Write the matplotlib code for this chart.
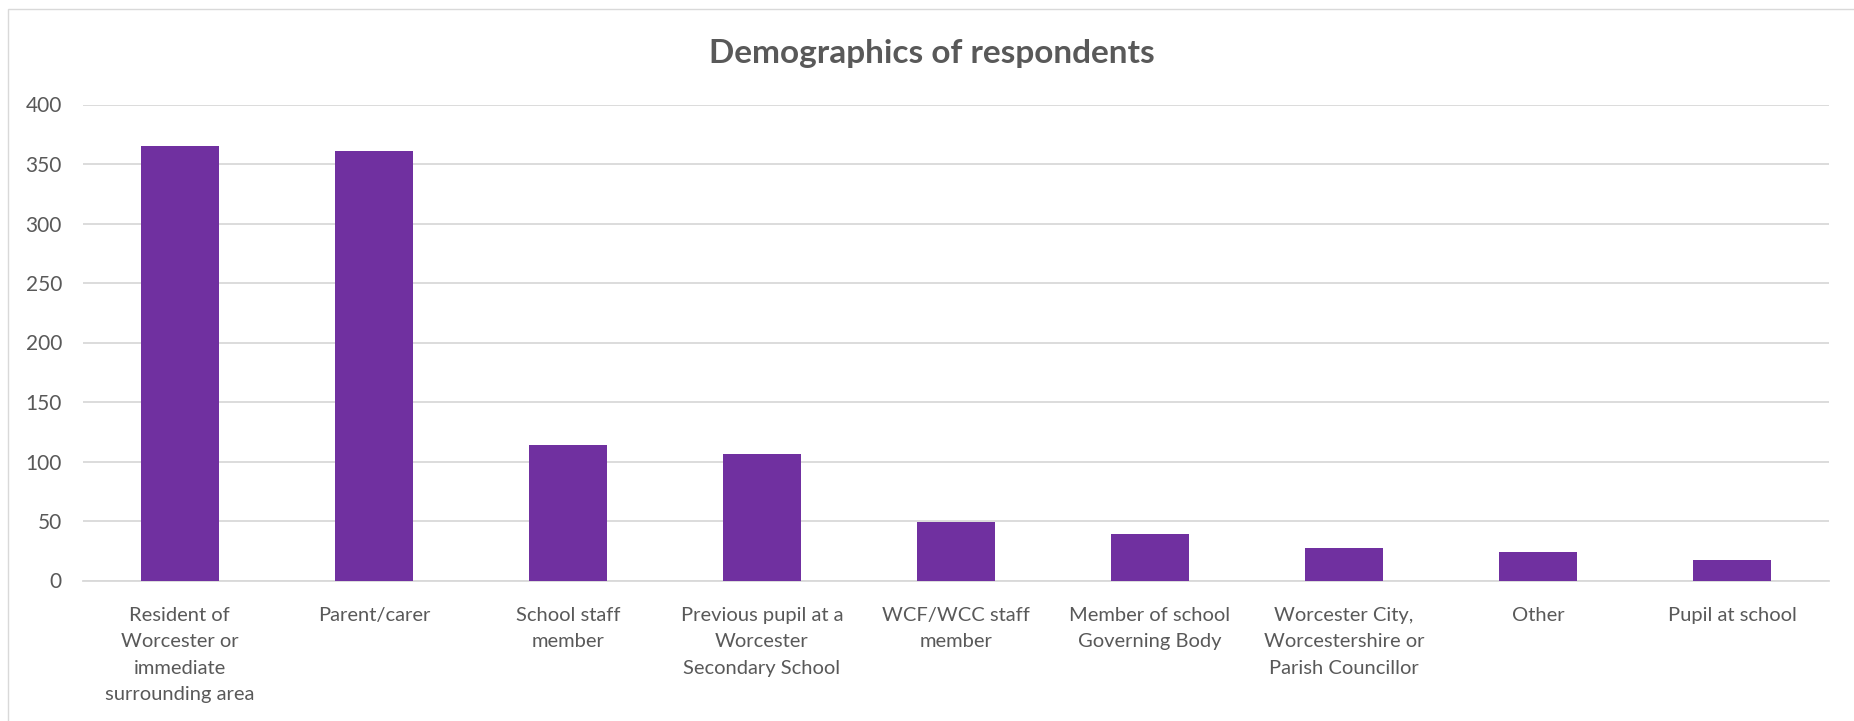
import matplotlib
matplotlib.use("Agg")
import matplotlib.pyplot as plt
from matplotlib.patches import Rectangle

categories = [
    "Resident of\nWorcester or\nimmediate\nsurrounding area",
    "Parent/carer",
    "School staff\nmember",
    "Previous pupil at a\nWorcester\nSecondary School",
    "WCF/WCC staff\nmember",
    "Member of school\nGoverning Body",
    "Worcester City,\nWorcestershire or\nParish Councillor",
    "Other",
    "Pupil at school",
]
values = [365, 361, 114, 106, 49, 39, 27, 24, 17]
yticks = [0, 50, 100, 150, 200, 250, 300, 350, 400]
title = "Demographics of respondents"

plt.rcParams['font.family'] = ['Lato', 'DejaVu Sans']
W, H = 1854, 721
fig = plt.figure(figsize=(W / 100, H / 100), dpi=100)
ax = fig.add_axes([82.8 / W, 1 - 580.5 / H, (1829 - 82.8) / W, (580.5 - 104.5) / H])

x = list(range(len(categories)))
ax.bar(x, values, width=0.4, color="#7030A0", zorder=3)
ax.set_xlim(-0.5, len(categories) - 0.5)
ax.set_ylim(0, 400)
ax.set_yticks(yticks)
ax.set_yticklabels([str(t) for t in yticks])
ax.set_xticks(x)
ax.set_xticklabels(categories, linespacing=1.68)
ax.grid(axis="y", color="#D9D9D9", linewidth=1.3, zorder=0)
for s in ["top", "right", "left"]:
    ax.spines[s].set_visible(False)
ax.spines["bottom"].set_color("#D9D9D9")
ax.spines["bottom"].set_linewidth(1.3)
ax.tick_params(axis="both", length=0, colors="#595959")
ax.tick_params(axis="y", pad=15, labelsize=15)
ax.tick_params(axis="x", pad=19, labelsize=14.5)
for lbl in ax.get_xticklabels() + ax.get_yticklabels():
    lbl.set_color("#595959")

fig.text(932 / W, 1 - 54 / H, title, ha="center", va="center",
         fontsize=24, fontweight="bold", color="#595959")

fig.patches.append(Rectangle((8 / W, -0.01), 1.0, 1 - 9 / H + 0.01,
                             transform=fig.transFigure, fill=False,
                             edgecolor="#D9D9D9", linewidth=1.0))

fig.savefig("out.png", dpi=100)
